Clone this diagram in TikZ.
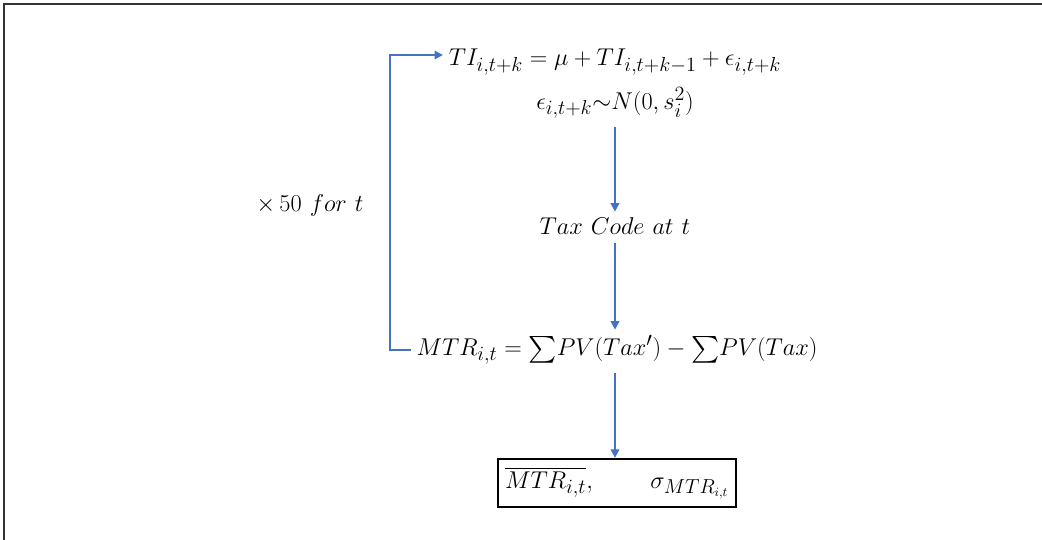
\documentclass[tikz,border=0pt]{standalone}
\usepackage{amsmath,amssymb}
\usepackage{xcolor}
\usetikzlibrary{arrows.meta,positioning}
\definecolor{flowblue}{HTML}{4472C4}
\definecolor{frameg}{HTML}{333333}

\begin{document}
\begin{tikzpicture}[
    x=0.025cm, y=-0.025cm,
    every node/.style={inner sep=0pt, font=\fontsize{19}{23}\selectfont},
    flow/.style={-{Triangle[length=6pt,width=6pt]}, draw=flowblue, line width=1.4pt},
    resbox/.style={draw=black, line width=1.6pt, minimum width=5.95cm, minimum height=1.2cm, inner sep=4pt}
]
\useasboundingbox (0,0) rectangle (1042,540);
\draw[frameg, line width=1.2pt] (4,540) -- (4,4) -- (1042,4);

\node (ti)   at (615,62)  {$TI_{i,t+k} = \mu + TI_{i,t+k-1} + \epsilon_{i,t+k}$};
\node (eps)  at (615,103) {$\epsilon_{i,t+k}{\sim}N(0,s_i^2)$};
\node (code) at (615,226) {$Tax\ Code\ at\ t$};
\node (mtr)  at (617,350) {$MTR_{i,t} = {\textstyle\sum} PV(Tax') - {\textstyle\sum} PV(Tax)$};
\node[resbox] (res) at (617,483) {$\overline{MTR_{i,t}},\qquad \sigma_{MTR_{i,t}}$};
\node (loop) at (310,205) {$\times\, 50\ for\ t$};

\coordinate (lb) at (390,350);
\coordinate (lt) at (390,55);

\draw[flow] (eps.south) ++(0,-6pt) -- ([yshift=4pt]code.north);
\draw[flow] ([yshift=-6pt]code.south) -- ([yshift=4pt]code.south |- mtr.north);
\draw[flow] ([yshift=-6pt]code.south |- mtr.south) -- (code.south |- res.north);
\draw[flow] ([xshift=-4pt]mtr.west) -- (lb) -- (lt) -- ([xshift=-4pt]lt -| ti.west);
\end{tikzpicture}
\end{document}
